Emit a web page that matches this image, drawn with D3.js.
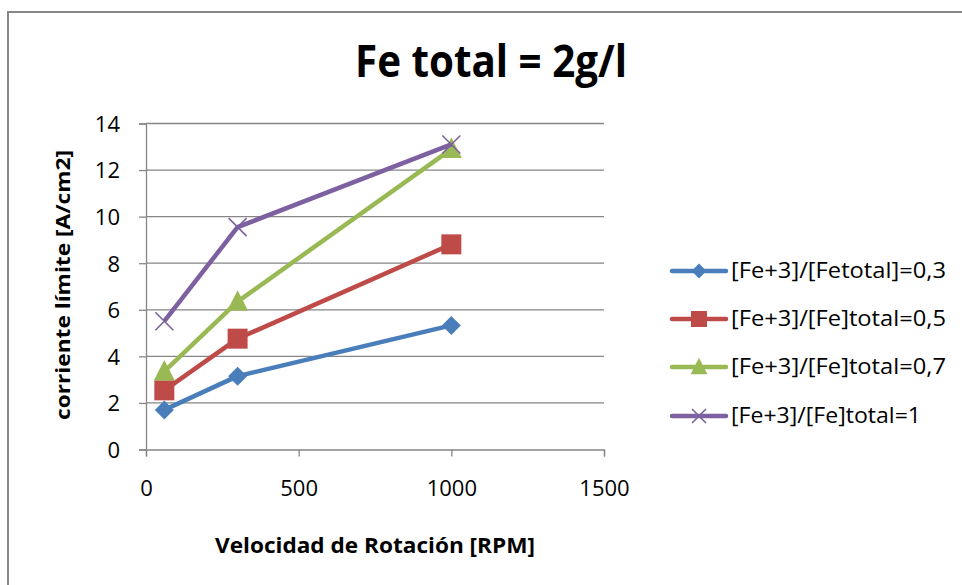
<!DOCTYPE html>
<html>
<head>
<meta charset="utf-8">
<script src="https://cdn.jsdelivr.net/npm/d3@7"></script>
<style>
  html, body { margin: 0; padding: 0; background: #fff; }
  svg { display: block; }
</style>
</head>
<body>
<svg id="chart" width="962" height="585"></svg>
<script>
// Rotation speeds (RPM) at which the limiting current was measured
const rpm = [60, 300, 1000];

// Limiting current [A/cm2] for each Fe+3 / Fe total ratio
const ratio03 = [1.7, 3.15, 5.33];
const ratio05 = [2.54, 4.76, 8.81];
const ratio07 = [3.35, 6.35, 12.9];
const ratio10 = [5.51, 9.55, 13.1];

const seriesNames = [
  "[Fe+3]/[Fetotal]=0,3",
  "[Fe+3]/[Fe]total=0,5",
  "[Fe+3]/[Fe]total=0,7",
  "[Fe+3]/[Fe]total=1"
];
const seriesValues = [ratio03, ratio05, ratio07, ratio10];
const seriesColors = ["#4A7EBB", "#BE4B48", "#98B954", "#7D60A0"];
const seriesMarkers = ["diamond", "square", "triangle", "cross"];

const xTicks = [0, 500, 1000, 1500];
const yTicks = [0, 2, 4, 6, 8, 10, 12, 14];

const titleText = "Fe total = 2g/l";
const xTitle = "Velocidad de Rotación [RPM]";
const yTitle = "corriente límite [A/cm2]";

const font = "'Open Sans', 'Noto Sans', sans-serif";
const axisGray = "#868686";

const svg = d3.select("#chart");

// Chart frame
svg.append("rect")
  .attr("x", 8).attr("y", 12)
  .attr("width", 1000).attr("height", 600)
  .attr("fill", "#fff")
  .attr("stroke", "#878787").attr("stroke-width", 2);

const x = d3.scaleLinear().domain([0, 1500]).range([146, 604]);
const y = d3.scaleLinear().domain([0, 14]).range([449.5, 123.5]);

// Horizontal gridlines
svg.append("g").selectAll("line")
  .data(yTicks.filter(d => d > 0))
  .join("line")
  .attr("x1", x(0)).attr("x2", x(1500))
  .attr("y1", d => y(d)).attr("y2", d => y(d))
  .attr("stroke", axisGray).attr("stroke-width", 1.3);

// Y axis
const yAxis = svg.append("g")
  .attr("transform", `translate(${x(0)},0)`)
  .call(d3.axisLeft(y).tickValues(yTicks).tickSize(7).tickPadding(19).tickFormat(d3.format("d")));
yAxis.select(".domain").attr("stroke", axisGray).attr("stroke-width", 1.3);
yAxis.selectAll(".tick line").attr("stroke", axisGray).attr("stroke-width", 1.3);
yAxis.selectAll(".tick text")
  .attr("font-family", font).attr("font-size", 22).attr("fill", "#000")
  .attr("dy", "0.36em");

// X axis
const xAxis = svg.append("g")
  .attr("transform", `translate(0,${y(0)})`)
  .call(d3.axisBottom(x).tickValues(xTicks).tickSize(7).tickPadding(24).tickFormat(d3.format("d")));
xAxis.select(".domain").attr("stroke", axisGray).attr("stroke-width", 1.3);
xAxis.selectAll(".tick line").attr("stroke", axisGray).attr("stroke-width", 1.3);
xAxis.selectAll(".tick text")
  .attr("font-family", font).attr("font-size", 22).attr("fill", "#000");

// Title and axis titles
svg.append("text")
  .attr("x", 491).attr("y", 77)
  .attr("text-anchor", "middle")
  .attr("font-family", font).attr("font-weight", "bold").attr("font-size", 44)
  .attr("textLength", 272).attr("lengthAdjust", "spacingAndGlyphs")
  .text(titleText);

svg.append("text")
  .attr("x", 375).attr("y", 553)
  .attr("text-anchor", "middle")
  .attr("font-family", font).attr("font-weight", "bold").attr("font-size", 21)
  .attr("textLength", 320).attr("lengthAdjust", "spacingAndGlyphs")
  .text(xTitle);

svg.append("text")
  .attr("transform", "translate(70,285) rotate(-90)")
  .attr("text-anchor", "middle")
  .attr("font-family", font).attr("font-weight", "bold").attr("font-size", 20)
  .attr("textLength", 270).attr("lengthAdjust", "spacingAndGlyphs")
  .text(yTitle);

// Marker shapes
function drawMarker(g, kind, color, s) {
  if (kind === "diamond") {
    g.append("path").attr("d", `M0,${-s}L${s},0L0,${s}L${-s},0Z`).attr("fill", color);
  } else if (kind === "square") {
    g.append("rect").attr("x", -s).attr("y", -s).attr("width", 2 * s).attr("height", 2 * s).attr("fill", color);
  } else if (kind === "triangle") {
    g.append("path").attr("d", `M0,${-s * 1.15}L${s * 1.05},${s * 0.9}L${-s * 1.05},${s * 0.9}Z`).attr("fill", color);
  } else {
    g.append("path").attr("d", `M${-s},${-s}L${s},${s}M${-s},${s}L${s},${-s}`)
      .attr("stroke", color).attr("stroke-width", 1.6).attr("fill", "none");
  }
}

const line = d3.line().x(d => x(d[0])).y(d => y(d[1]));
const markerSize = [9.5, 10, 10, 9];

seriesValues.forEach((vals, i) => {
  const pts = rpm.map((r, j) => [r, vals[j]]);
  svg.append("path")
    .datum(pts)
    .attr("d", line)
    .attr("fill", "none")
    .attr("stroke", seriesColors[i])
    .attr("stroke-width", 4.5)
    .attr("stroke-linejoin", "round");
  pts.forEach(p => {
    const g = svg.append("g").attr("transform", `translate(${x(p[0])},${y(p[1])})`);
    drawMarker(g, seriesMarkers[i], seriesColors[i], markerSize[i]);
  });
});

// Legend
const legendRows = [271, 319, 367, 416];
const legendWidths = [215, 215, 215, 190];
seriesNames.forEach((name, i) => {
  const ly = legendRows[i];
  svg.append("line")
    .attr("x1", 672).attr("x2", 726).attr("y1", ly).attr("y2", ly)
    .attr("stroke", seriesColors[i]).attr("stroke-width", 4.5).attr("stroke-linecap", "round");
  const g = svg.append("g").attr("transform", `translate(699,${ly})`);
  drawMarker(g, seriesMarkers[i], seriesColors[i], [7.5, 8, 8, 7][i]);
  svg.append("text")
    .attr("x", 731).attr("y", ly + 7)
    .attr("font-family", font).attr("font-size", 21).attr("fill", "#000")
    .attr("textLength", legendWidths[i]).attr("lengthAdjust", "spacingAndGlyphs")
    .text(name);
});
</script>
</body>
</html>
